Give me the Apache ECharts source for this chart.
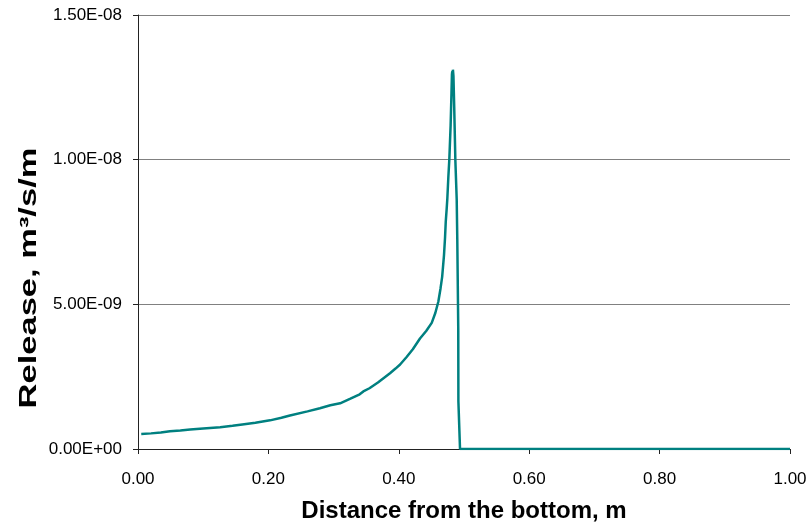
<!DOCTYPE html>
<html>
<head>
<meta charset="utf-8">
<script src="https://cdn.jsdelivr.net/npm/echarts@6/dist/echarts.min.js"></script>
<style>html,body{margin:0;padding:0;background:#fff;}#c{width:811px;height:528px;}</style>
</head>
<body>
<div id="c"></div>
<script>
// Distance from the bottom, m
const distance = [0.005,0.02,0.035,0.049,0.065,0.08,0.10,0.126,0.145,0.16,0.18,0.2025,0.22,0.233,0.26,0.279,0.295,0.31,0.325,0.340,0.3456,0.355,0.368,0.3865,0.395,0.402,0.412,0.4215,0.4325,0.442,0.4505,0.456,0.4606,0.464,0.4665,0.4693,0.4709,0.472,0.4734,0.4744,0.476,0.4775,0.4795,0.4808,0.4815,0.482,0.4825,0.483,0.4838,0.485,0.4867,0.4888,0.4897,0.4912,0.4914,0.4939,0.55,0.75,1.0];
// Release, 1e-9 m3/s/m
const releaseE9 = [0.52,0.54,0.57,0.61,0.64,0.67,0.71,0.75,0.80,0.85,0.91,0.99,1.08,1.16,1.30,1.41,1.51,1.58,1.73,1.89,1.99,2.10,2.30,2.62,2.78,2.92,3.18,3.45,3.82,4.08,4.36,4.70,5.09,5.55,5.95,6.69,7.30,7.85,8.29,8.64,9.40,10.01,11.2,12.3,12.95,13.05,12.7,13.11,12.9,11.8,10.01,8.64,7.26,4.16,1.65,0.0,0.0,0.0,0.0];
const xTicks = [0,0.2,0.4,0.6,0.8,1.0];
const yTicks = [0,5e-9,1e-8,1.5e-8];
const xTitle = 'Distance from the bottom, m';
const yTitle = 'Release, m³/s/m';

const seriesData = distance.map((d,i)=>[d, releaseE9[i]*1e-9]);

function sci(v){
  if (v === 0) return '0.00E+00';
  const e = Math.floor(Math.log10(Math.abs(v)) + 1e-9);
  const m = v / Math.pow(10, e);
  const sign = e < 0 ? '-' : '+';
  const ea = Math.abs(e);
  return m.toFixed(2) + 'E' + sign + (ea < 10 ? '0' + ea : '' + ea);
}

const chart = echarts.init(document.getElementById('c'), null, {renderer:'canvas'});
const font = 'Liberation Sans, Arial, sans-serif';
chart.setOption({
  animation:false,
  backgroundColor:'#fff',
  grid:{left:138,right:21,top:15,bottom:77,containLabel:false},
  graphic:[{
    type:'text', x:30, y:278, rotation:Math.PI/2, scaleX:1.5, scaleY:1,
    style:{text:yTitle, font:'bold 23px "Liberation Sans", Arial, sans-serif', fill:'#000', align:'center', verticalAlign:'middle'}
  }],
  xAxis:{
    type:'value', min:xTicks[0], max:xTicks[xTicks.length-1], interval:0.2,
    name:xTitle, nameLocation:'middle', nameGap:50,
    nameTextStyle:{fontFamily:font,fontSize:24,fontWeight:'bold',color:'#000'},
    axisLine:{show:true,lineStyle:{color:'#222',width:1}},
    axisTick:{show:true,inside:false,length:5,lineStyle:{color:'#222'}},
    axisLabel:{margin:22,fontFamily:font,fontSize:17,color:'#000',formatter:v=>v.toFixed(2)},
    splitLine:{show:false}
  },
  yAxis:{
    type:'value', min:yTicks[0], max:yTicks[yTicks.length-1], interval:5e-9,
    axisLine:{show:true,lineStyle:{color:'#222',width:1}},
    axisTick:{show:true,inside:false,length:5,lineStyle:{color:'#222'}},
    axisLabel:{margin:16,fontFamily:font,fontSize:17,color:'#000',formatter:sci},
    splitLine:{show:true,lineStyle:{color:'#808080',width:1}}
  },
  series:[{
    type:'line', data:seriesData, showSymbol:false, symbol:'none',
    lineStyle:{color:'#008080',width:2.5}, itemStyle:{color:'#008080'}
  }]
});
</script>
</body>
</html>
